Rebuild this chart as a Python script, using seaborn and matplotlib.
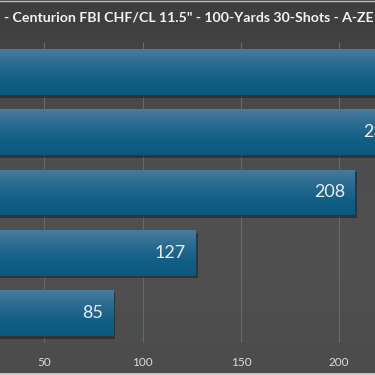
import numpy as np
import pandas as pd
import matplotlib
matplotlib.use('Agg')
import matplotlib.pyplot as plt
import matplotlib.patheffects as pe
from matplotlib.colors import LinearSegmentedColormap
import seaborn as sns

# Data (the category names sit off the visible crop; top two bars run past the edge)
loads = ['Load 1', 'Load 2', 'Load 3', 'Load 4', 'Load 5']
values = [262, 233, 208, 127, 85]
tick_vals = [50, 100, 150, 200]
title = '- Centurion FBI CHF/CL 11.5" - 100-Yards 30-Shots - A-ZE'

df = pd.DataFrame({'load': loads, 'value': values})

sns.set_theme(style='dark')
plt.rcParams['font.family'] = ['Lato', 'DejaVu Sans']

fig = plt.figure(figsize=(3.75, 3.75), dpi=100)
fig.patch.set_facecolor('#4b4b4b')

# background gradient
bg = fig.add_axes([0, 0, 1, 1], zorder=-5)
grad = np.linspace(0, 1, 256).reshape(-1, 1)
bg_cmap = LinearSegmentedColormap.from_list('bg', ['#3d3d3d', '#4c4c4c', '#505050', '#4c4c4c'])
bg.imshow(grad, aspect='auto', cmap=bg_cmap, extent=[0, 1, 0, 1])
bg.axis('off')

# axes deliberately wider than the canvas: the reference is a crop
ax = fig.add_axes([-54 / 375, 32 / 375, 491.5 / 375, 301 / 375])
ax.set_facecolor('none')

sns.barplot(data=df, x='value', y='load', orient='h', color='#15628a',
            width=0.76, ax=ax, zorder=3, linewidth=0)

ax.set_xlim(0, 250)
ax.set_ylim(4.5, -0.5)
ax.set_xticks(tick_vals)
ax.set_xticklabels([str(t) for t in tick_vals], color='#dadada', fontsize=8.5)
ax.tick_params(axis='x', length=0, pad=10)
ax.set_yticks([])
ax.set_xlabel('')
ax.set_ylabel('')
ax.grid(axis='x', color='#686868', linewidth=0.8, zorder=0)
ax.grid(axis='y', visible=False)
for s in ax.spines.values():
    s.set_visible(False)

# gradient fill (lighter at top) + shadow on each bar
bar_cmap = LinearSegmentedColormap.from_list('bar', ['#4a7b9d', '#2a6b91', '#125f86', '#0c587d'])
for p in ax.patches:
    p.set_path_effects([pe.SimplePatchShadow(offset=(1.5, -2), shadow_rgbFace='#222222', alpha=0.6),
                        pe.Normal()])
    x0, y0 = p.get_x(), p.get_y()
    w, h = p.get_width(), p.get_height()
    im = ax.imshow(grad, aspect='auto', cmap=bar_cmap, extent=[x0, x0 + w, y0 + h, y0],
                   origin='upper', zorder=4, interpolation='bicubic')
    im.set_clip_path(p)

ax.set_xlim(0, 250)
ax.set_ylim(4.5, -0.5)

for i, v in enumerate(values):
    ax.annotate(str(v), xy=(v, i), xytext=(-7, 0), textcoords='offset points',
                ha='right', va='center', color='#ececec', fontsize=13, zorder=6)

fig.text(4 / 375, 1 - 18 / 375, title, ha='left', va='center', color='#f2f2f2',
         fontsize=10.2, fontweight='bold')

# thin light frame lines at top/bottom of the crop
fig.add_artist(plt.Line2D([0, 1], [1 - 0.5 / 375, 1 - 0.5 / 375], color='#bdbdbd', lw=1))
fig.add_artist(plt.Line2D([0, 1], [1 / 375, 1 / 375], color='#d0d0d0', lw=2))

fig.savefig('out.png', dpi=100, facecolor=fig.get_facecolor())
